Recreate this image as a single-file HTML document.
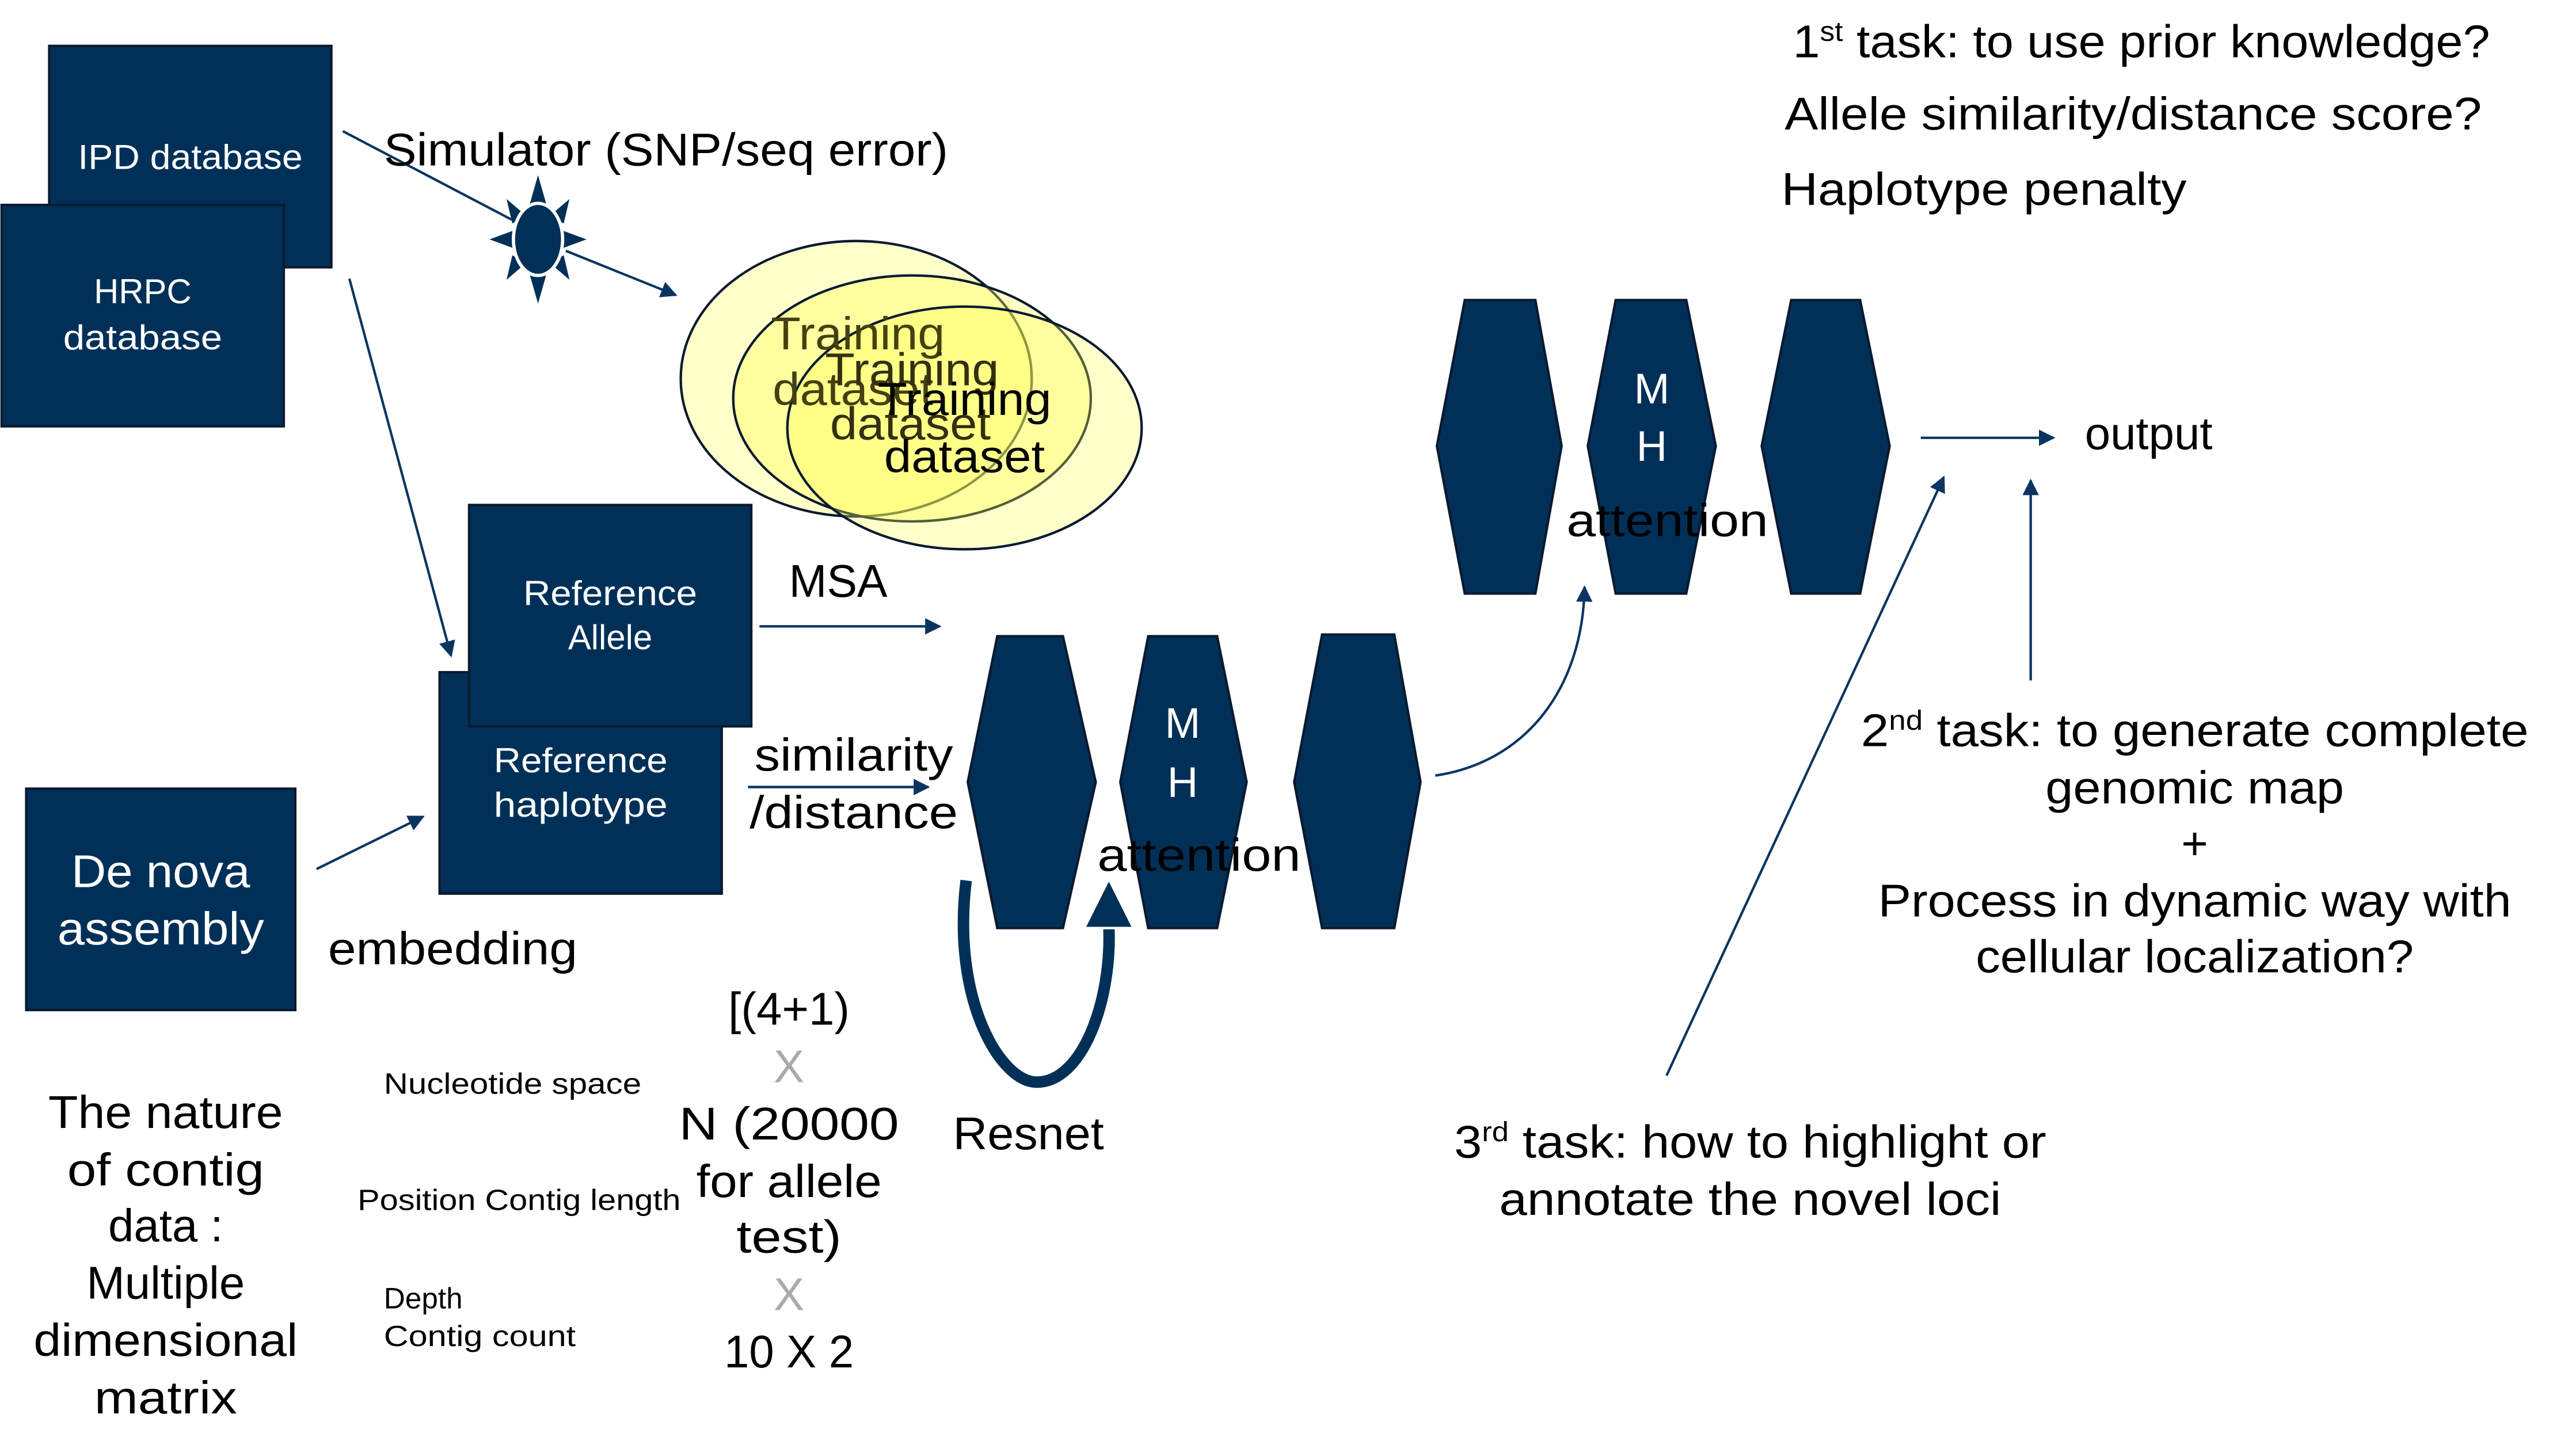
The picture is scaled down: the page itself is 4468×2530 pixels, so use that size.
<!DOCTYPE html>
<html><head><meta charset="utf-8"><style>
html,body{margin:0;padding:0;background:#fff;}
svg{display:block;}
text{font-family:"Liberation Sans",sans-serif;}
</style></head><body>
<svg width="4468" height="2530" viewBox="0 0 1568 888" preserveAspectRatio="none" xmlns="http://www.w3.org/2000/svg">
<defs>
<marker id="ah" markerWidth="10" markerHeight="10" refX="9" refY="5" orient="auto" markerUnits="userSpaceOnUse"><path d="M0,0 L10,5 L0,10 z" fill="#0b3560"/></marker>
</defs>
<g fill="#003057" stroke="#0a1a30" stroke-width="1.5">
<rect x="30" y="28" width="172" height="135"/>
<rect x="1" y="125" width="172" height="135"/>
<rect x="268" y="410" width="172" height="135"/>
<rect x="286" y="308" width="172" height="135"/>
<rect x="16" y="481" width="164" height="135"/>
</g>
<g fill="#fff" font-size="21" text-anchor="middle">
<text x="116" y="103" textLength="137" lengthAdjust="spacingAndGlyphs">IPD database</text>
<text x="87" y="185">HRPC</text><text x="87" y="213" textLength="97" lengthAdjust="spacingAndGlyphs">database</text>
<text x="372" y="369" textLength="106" lengthAdjust="spacingAndGlyphs">Reference</text><text x="372" y="396">Allele</text>
<text x="354" y="471" textLength="106" lengthAdjust="spacingAndGlyphs">Reference</text><text x="354" y="498" textLength="106" lengthAdjust="spacingAndGlyphs">haplotype</text>
<text x="98" y="541" font-size="28" textLength="109" lengthAdjust="spacingAndGlyphs">De nova</text><text x="98" y="576" font-size="28" textLength="126" lengthAdjust="spacingAndGlyphs">assembly</text>
</g>
<!-- star -->
<g fill="#003057" stroke="#fff" stroke-width="1">
<polygon points="328,105 334,126 322,126"/><polygon points="328,187 334,166 322,166"/>
<polygon points="297,146 316,139 316,153"/><polygon points="359,146 340,139 340,153"/>
<polygon points="308,120 322,132 312,137"/><polygon points="348,120 334,132 344,137"/>
<polygon points="308,172 322,160 312,155"/><polygon points="348,172 334,160 344,155"/>
<ellipse cx="328" cy="146" rx="15" ry="22" stroke="#fff" stroke-width="2"/>
</g>
<g stroke="#0b3560" stroke-width="1.5" fill="none">
<line x1="209" y1="80" x2="312" y2="134"/>
<line x1="345" y1="153" x2="412" y2="180" marker-end="url(#ah)"/>
<line x1="213" y1="170" x2="275" y2="400" marker-end="url(#ah)"/>
<line x1="193" y1="530" x2="258" y2="498" marker-end="url(#ah)"/>
<line x1="463" y1="382" x2="573" y2="382" marker-end="url(#ah)"/>
<line x1="456" y1="480" x2="566" y2="480" marker-end="url(#ah)"/>
<path d="M875,473 C930,465 965,420 966,358" marker-end="url(#ah)"/>
<line x1="1171" y1="267" x2="1252" y2="267" marker-end="url(#ah)"/>
<line x1="1016" y1="656" x2="1185" y2="291" marker-end="url(#ah)"/>
<line x1="1238" y1="415" x2="1238" y2="293" marker-end="url(#ah)"/>
</g>
<!-- ellipses -->
<g stroke="#0a1a30" stroke-width="1.5">
<ellipse cx="522" cy="231" rx="107" ry="84" fill="rgba(255,255,80,0.3)"/>
<ellipse cx="556" cy="243" rx="109" ry="75" fill="rgba(255,255,80,0.35)"/>
<ellipse cx="588" cy="261" rx="108" ry="74" fill="rgba(255,255,80,0.3)"/>
</g>
<g font-size="28" text-anchor="middle">
<text x="523" y="213" fill="#444010" textLength="106" lengthAdjust="spacingAndGlyphs">Training</text><text x="520" y="247" fill="#444010" textLength="98" lengthAdjust="spacingAndGlyphs">dataset</text>
<text x="556" y="235" fill="#333010" textLength="106" lengthAdjust="spacingAndGlyphs">Training</text><text x="555" y="268" fill="#333010" textLength="98" lengthAdjust="spacingAndGlyphs">dataset</text>
<text x="588" y="253" textLength="106" lengthAdjust="spacingAndGlyphs">Training</text><text x="588" y="288" textLength="98" lengthAdjust="spacingAndGlyphs">dataset</text>
</g>
<!-- hexagons -->
<g fill="#003057" stroke="#0a1a30" stroke-width="1.5">
<polygon points="608,388 648,388 668,477 648,566 608,566 590,477"/>
<polygon points="700,388 742,388 760,477 742,566 700,566 683,477"/>
<polygon points="806,387 850,387 866,477 850,566 806,566 789,477"/>
<polygon points="893,183 936,183 952,272 936,362 893,362 876,272"/>
<polygon points="985,183 1028,183 1046,272 1028,362 985,362 968,272"/>
<polygon points="1092,183 1134,183 1152,272 1134,362 1092,362 1074,272"/>
</g>
<g fill="#fff" font-size="26" text-anchor="middle">
<text x="721" y="450">M</text><text x="721" y="486">H</text>
<text x="1007" y="246">M</text><text x="1007" y="281">H</text>
</g>
<!-- resnet arrow -->
<path d="M589,537 C580,610 610,660 632,660 C660,660 678,610 676,565" fill="none" stroke="#fff" stroke-width="11"/>
<path d="M589,537 C580,610 610,660 632,660 C660,660 678,610 676,565" fill="none" stroke="#003057" stroke-width="7"/>
<polygon points="661,566 691,566 676,536" fill="#003057" stroke="#fff" stroke-width="1.5"/>
<g font-size="28">
<text x="234" y="101" textLength="344" lengthAdjust="spacingAndGlyphs">Simulator (SNP/seq error)</text>
<text x="481" y="364" textLength="60" lengthAdjust="spacingAndGlyphs">MSA</text>
<text x="460" y="470" textLength="121" lengthAdjust="spacingAndGlyphs">similarity</text>
<text x="457" y="505" textLength="127" lengthAdjust="spacingAndGlyphs">/distance</text>
<text x="200" y="588" textLength="152" lengthAdjust="spacingAndGlyphs">embedding</text>
<text x="669" y="531" textLength="124" lengthAdjust="spacingAndGlyphs">attention</text>
<text x="955" y="327" textLength="123" lengthAdjust="spacingAndGlyphs">attention</text>
<text x="581" y="701" textLength="92" lengthAdjust="spacingAndGlyphs">Resnet</text>
<text x="1271" y="274">output</text>
<text x="1093" y="35" textLength="425" lengthAdjust="spacingAndGlyphs">1<tspan font-size="17" dy="-10">st</tspan><tspan dy="10"> task: to use prior knowledge?</tspan></text>
<text x="1088" y="79" textLength="425" lengthAdjust="spacingAndGlyphs">Allele similarity/distance score?</text>
<text x="1086" y="125" textLength="247" lengthAdjust="spacingAndGlyphs">Haplotype penalty</text>
<g text-anchor="middle">
<text x="1338" y="455" textLength="407" lengthAdjust="spacingAndGlyphs">2<tspan font-size="17" dy="-10">nd</tspan><tspan dy="10"> task: to generate complete</tspan></text>
<text x="1338" y="490" textLength="182" lengthAdjust="spacingAndGlyphs">genomic map</text>
<text x="1338" y="524">+</text>
<text x="1338" y="559" textLength="386" lengthAdjust="spacingAndGlyphs">Process in dynamic way with</text>
<text x="1338" y="593" textLength="267" lengthAdjust="spacingAndGlyphs">cellular localization?</text>
<text x="1067" y="706" textLength="361" lengthAdjust="spacingAndGlyphs">3<tspan font-size="17" dy="-10">rd</tspan><tspan dy="10"> task: how to highlight or</tspan></text>
<text x="1067" y="741" textLength="306" lengthAdjust="spacingAndGlyphs">annotate the novel loci</text>
<text x="101" y="688" textLength="143" lengthAdjust="spacingAndGlyphs">The nature</text>
<text x="101" y="723" textLength="120" lengthAdjust="spacingAndGlyphs">of contig</text>
<text x="101" y="757">data :</text>
<text x="101" y="792">Multiple</text>
<text x="101" y="827" textLength="161" lengthAdjust="spacingAndGlyphs">dimensional</text>
<text x="101" y="862" textLength="87" lengthAdjust="spacingAndGlyphs">matrix</text>
<text x="481" y="625" textLength="74" lengthAdjust="spacingAndGlyphs">[(4+1)</text>
<text x="481" y="660" fill="#aaa">X</text>
<text x="481" y="695" textLength="134" lengthAdjust="spacingAndGlyphs">N (20000</text>
<text x="481" y="730" textLength="113" lengthAdjust="spacingAndGlyphs">for allele</text>
<text x="481" y="764" textLength="64" lengthAdjust="spacingAndGlyphs">test)</text>
<text x="481" y="799" fill="#aaa">X</text>
<text x="481" y="834" textLength="79" lengthAdjust="spacingAndGlyphs">10 X 2</text>
</g>
</g>
<g font-size="18">
<text x="234" y="667" textLength="157" lengthAdjust="spacingAndGlyphs">Nucleotide space</text>
<text x="218" y="738" textLength="197" lengthAdjust="spacingAndGlyphs">Position Contig length</text>
<text x="234" y="798">Depth</text>
<text x="234" y="821" textLength="117" lengthAdjust="spacingAndGlyphs">Contig count</text>
</g>
</svg>
</body></html>
